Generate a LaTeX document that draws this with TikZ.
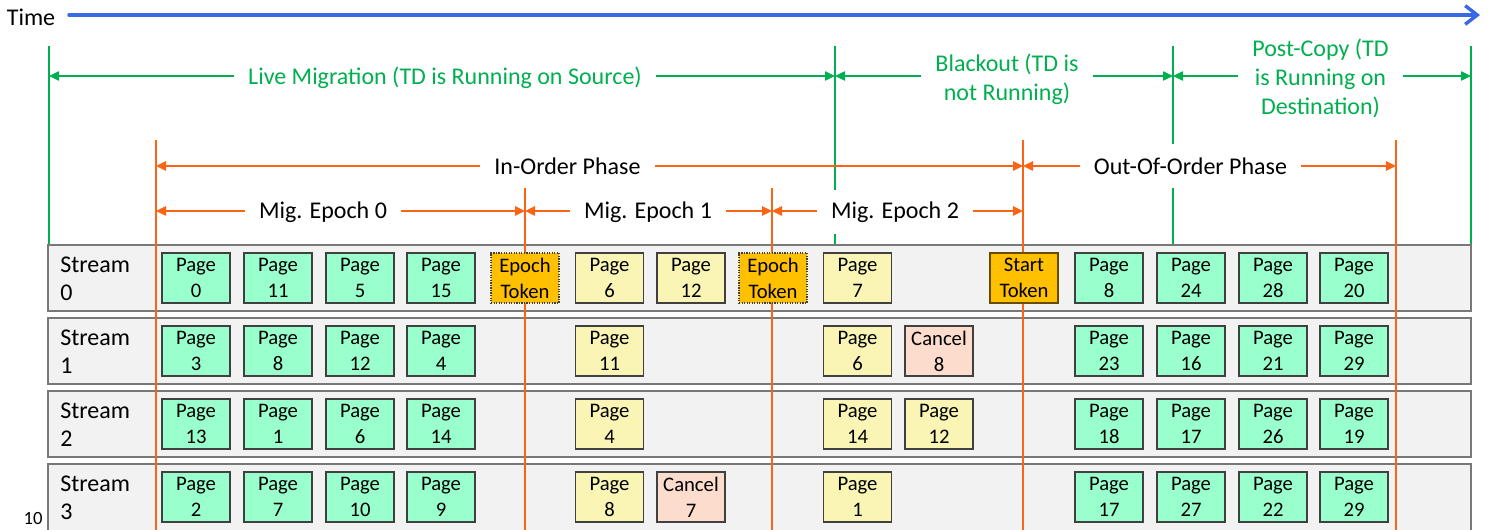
\documentclass[tikz,border=0pt]{standalone}
\usepackage{fontspec}
\setmainfont{Carlito}
\usetikzlibrary{arrows.meta}
\definecolor{mygreen}{RGB}{0,176,80}
\definecolor{myorange}{RGB}{250,100,20}
\definecolor{myblue}{RGB}{58,105,230}
\definecolor{pagegreen}{RGB}{153,255,204}
\definecolor{pageyellow}{RGB}{250,245,180}
\definecolor{cancelfill}{RGB}{252,220,205}
\definecolor{tokenfill}{RGB}{255,192,0}
\definecolor{streamfill}{RGB}{242,242,242}
\definecolor{streamdraw}{RGB}{120,120,120}
\definecolor{boxdraw}{RGB}{64,64,64}
\begin{document}
\begin{tikzpicture}[x=0.75pt,y=-0.75pt,
  bigfont/.style={font=\fontsize{18}{21.75}\selectfont},
  dimlbl/.style={bigfont, align=center, fill=white, inner xsep=10.5pt, inner ysep=0pt, minimum height=33pt},
  greenlbl/.style={dimlbl, text=mygreen},
  orangelbl/.style={dimlbl, text=black},
  greenline/.style={draw=mygreen, line width=1pt},
  orangeline/.style={draw=myorange, line width=1.1pt},
  greendim/.style={greenline, {Triangle[length=7.5pt,width=7pt]}-{Triangle[length=7.5pt,width=7pt]}},
  orangedim/.style={orangeline, {Triangle[length=7.5pt,width=7pt]}-{Triangle[length=7.5pt,width=7pt]}},
  streambox/.style={draw=streamdraw, fill=streamfill, line width=1.2pt, minimum width=1067.25pt, inner sep=0pt},
  streamlbl/.style={font=\fontsize{18}{21}\selectfont, align=left, anchor=west, inner sep=0pt},
  pbox/.style={draw=boxdraw, line width=0.9pt, minimum width=51pt, minimum height=37.5pt, inner sep=0pt, align=center, font=\fontsize{15.5}{19.5}\selectfont},
  pg/.style={pbox, fill=pagegreen},
  py/.style={pbox, fill=pageyellow},
  pc/.style={pbox, fill=cancelfill},
  ptok/.style={pbox, fill=tokenfill, densely dotted},
  pstart/.style={pbox, fill=tokenfill, draw=black!60!tokenfill}
]
\useasboundingbox (0,0) rectangle (1490,530);

% ---- Time axis ----
\node[bigfont, inner sep=0pt] (time) at (31,17) {Time};
\coordinate (ts) at (69,15);
\coordinate (te) at (1480,15);
\draw[myblue, line width=2.6pt, line cap=round, line join=round, -{Straight Barb[length=9pt,width=14pt]}] (ts) -- (te);

% ---- green verticals ----
\foreach \n/\x in {ga/49, gb/835, gc/1173, gd/1471}{
  \coordinate (\n t) at (\x,46);
  \coordinate (\n b) at (\x,245);
  \draw[greenline] (\n t) -- (\n b);
}

% ---- green dimension lines ----
\coordinate (gy1) at (49,76);
\coordinate (gy2) at (835,76);
\coordinate (gy3) at (1173,76);
\coordinate (gy4) at (1471,76);
\draw[greendim] (gy1) -- (gy2);
\draw[greendim] (gy2) -- (gy3);
\draw[greendim] (gy3) -- (gy4);
\node[greenlbl] (live) at (445,78) {Live Migration (TD is Running on Source)};
\node[greenlbl] (black) at (1007,79) {Blackout (TD is\\not Running)};
\node[greenlbl] (post) at (1320.5,78) {Post-Copy (TD\\is Running on\\Destination)};

% ---- orange dimension lines ----
\coordinate (oa) at (156,166);
\coordinate (ob) at (1023,166);
\coordinate (oc) at (1396,166);
\draw[orangedim] (oa) -- (ob);
\draw[orangedim] (ob) -- (oc);
\coordinate (ea) at (156,211);
\coordinate (eb) at (525,211);
\coordinate (ec) at (772,211);
\coordinate (ed) at (1023,211);
\draw[orangedim] (ea) -- (eb);
\draw[orangedim] (eb) -- (ec);
\draw[orangedim] (ec) -- (ed);
\node[orangelbl] (inord) at (567.5,166.5) {In-Order Phase};
\node[orangelbl] (outord) at (1190.5,166.5) {Out-Of-Order Phase};
\node[orangelbl] (ep0) at (323,212) {Mig. Epoch 0};
\node[orangelbl] (ep1) at (648,212) {Mig. Epoch 1};
\node[orangelbl] (ep2) at (895,212) {Mig. Epoch 2};

% ---- streams ----
\node[streambox, minimum height=49.5pt] (s0) at (759.5,278) {};
\node[streambox, minimum height=49.5pt] (s1) at (759.5,351) {};
\node[streambox, minimum height=49.5pt] (s2) at (759.5,424) {};
\node[streambox, minimum height=57pt] (s3) at (759.5,502) {};
\node[streamlbl] (l0) at (60,279) {Stream\\0};
\node[streamlbl] (l1) at (60,352) {Stream\\1};
\node[streamlbl] (l2) at (60,425) {Stream\\2};
\node[streamlbl] (l3) at (60,498) {Stream\\3};

% ---- orange verticals ----
\foreach \n/\x/\y in {va/156/140, vb/525/188, vc/772/188, vd/1023/140, ve/1396/140}{
  \coordinate (\n t) at (\x,\y);
  \coordinate (\n b) at (\x,532);
  \draw[orangeline] (\n t) -- (\n b);
}

% ---- stream 0 ----
\node[pg] (a0) at (196,278) {Page\\0};
\node[pg] (a1) at (278,278) {Page\\11};
\node[pg] (a2) at (360,278) {Page\\5};
\node[pg] (a3) at (441,278) {Page\\15};
\node[ptok] (a4) at (525,278) {Epoch\\Token};
\node[py] (a5) at (609.5,278) {Page\\6};
\node[py] (a6) at (691,278) {Page\\12};
\node[ptok] (a7) at (773,278) {Epoch\\Token};
\node[py] (a8) at (857.5,278) {Page\\7};
\node[pstart] (a10) at (1024,278) {Start\\Token};
\node[pg] (a11) at (1109,278) {Page\\8};
\node[pg] (a12) at (1191,278) {Page\\24};
\node[pg] (a13) at (1273,278) {Page\\28};
\node[pg] (a14) at (1354,278) {Page\\20};

% ---- stream 1 ----
\node[pg] (b0) at (196,351) {Page\\3};
\node[pg] (b1) at (278,351) {Page\\8};
\node[pg] (b2) at (360,351) {Page\\12};
\node[pg] (b3) at (441,351) {Page\\4};
\node[py] (b5) at (609.5,351) {Page\\11};
\node[py] (b8) at (857.5,351) {Page\\6};
\node[pc] (b9) at (939,351) {Cancel\\8};
\node[pg] (b11) at (1109,351) {Page\\23};
\node[pg] (b12) at (1191,351) {Page\\16};
\node[pg] (b13) at (1273,351) {Page\\21};
\node[pg] (b14) at (1354,351) {Page\\29};

% ---- stream 2 ----
\node[pg] (c0) at (196,424) {Page\\13};
\node[pg] (c1) at (278,424) {Page\\1};
\node[pg] (c2) at (360,424) {Page\\6};
\node[pg] (c3) at (441,424) {Page\\14};
\node[py] (c5) at (609.5,424) {Page\\4};
\node[py] (c8) at (857.5,424) {Page\\14};
\node[py] (c9) at (939,424) {Page\\12};
\node[pg] (c11) at (1109,424) {Page\\18};
\node[pg] (c12) at (1191,424) {Page\\17};
\node[pg] (c13) at (1273,424) {Page\\26};
\node[pg] (c14) at (1354,424) {Page\\19};

% ---- stream 3 ----
\node[pg] (d0) at (196,497) {Page\\2};
\node[pg] (d1) at (278,497) {Page\\7};
\node[pg] (d2) at (360,497) {Page\\10};
\node[pg] (d3) at (441,497) {Page\\9};
\node[py] (d5) at (609.5,497) {Page\\8};
\node[pc] (d6) at (691,497) {Cancel\\7};
\node[py] (d8) at (857.5,497) {Page\\1};
\node[pg] (d11) at (1109,497) {Page\\17};
\node[pg] (d12) at (1191,497) {Page\\27};
\node[pg] (d13) at (1273,497) {Page\\22};
\node[pg] (d14) at (1354,497) {Page\\29};

% ---- slide number ----
\node[font=\fontsize{14}{17}\selectfont, anchor=base, inner sep=0pt] (num) at (33,525) {10};
\end{tikzpicture}
\end{document}
